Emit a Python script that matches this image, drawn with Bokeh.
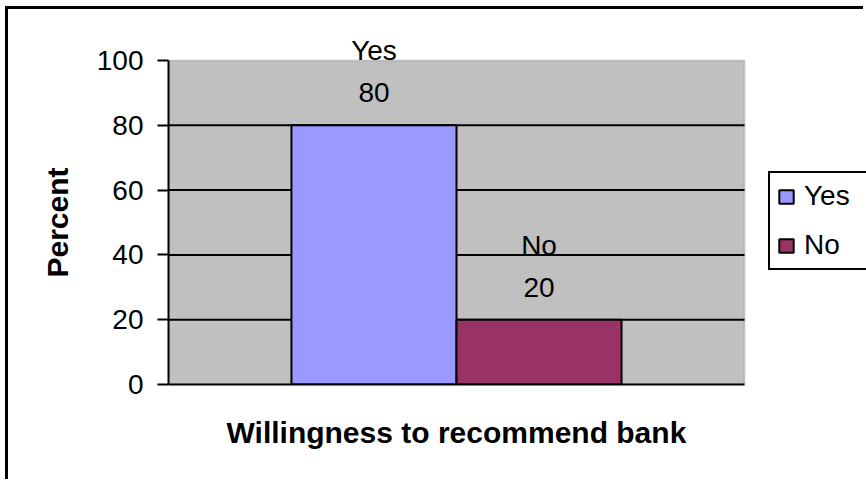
from bokeh.plotting import figure
from bokeh.models import (ColumnDataSource, Range1d, FixedTicker, LabelSet,
                          BoxAnnotation, Title)
from bokeh.core.properties import value
from bokeh.embed import file_html
from bokeh.resources import INLINE

# ---- data ----
categories = ["Yes", "No"]
percents = [80, 20]
colors = ["#9999FF", "#993366"]
y_ticks = [0, 20, 40, 60, 80, 100]
x_title = "Willingness to recommend bank"
y_title = "Percent"

FONT = "Liberation Sans"

# ---- layout constants (window pixels) ----
W, H = 866, 482
OX, OY = 8, 9                 # outer chart border offset
PL, PR, PT, PB = 168, 744, 60, 384   # grey plot area
PAD = 0.745                   # category padding on each side (category widths)
X0, X1 = -PAD, len(categories) + PAD
XPX = (PR - PL) / (X1 - X0)
X_END = X1 + (W - PR) / XPX
Y_END = 100 * (PB - OY) / (PB - PT)

x_pos = [i + 0.5 for i in range(len(categories))]

src = ColumnDataSource(dict(
    x=x_pos,
    cat=categories,
    val=percents,
    color=colors,
    val_txt=[str(v) for v in percents],
))

p = figure(width=W - OX, height=H - OY, output_backend="svg", toolbar_location=None,
           x_range=Range1d(X0, X_END), y_range=Range1d(0, Y_END),
           min_border_left=PL - OX, min_border_right=0,
           min_border_top=0, min_border_bottom=H - PB)
p.styles = {"border-left": "3px solid black", "border-top": "3px solid black",
            "margin-left": f"{OX - 3}px", "margin-top": f"{OY - 3}px"}

p.background_fill_color = "white"
p.border_fill_color = "white"
p.outline_line_color = None

# grey plot area
p.add_layout(BoxAnnotation(left=X0, right=X1, bottom=0, top=100,
                           fill_color="#C0C0C0", fill_alpha=1,
                           line_color="#808080", line_width=2, level="image"))

# grid lines (within plot area only)
grid_y = [t for t in y_ticks if 0 < t < 100]
p.segment(x0=[X0] * len(grid_y), x1=[X1] * len(grid_y), y0=grid_y, y1=grid_y,
          line_color="black", line_width=2)

# bars
p.vbar(x="x", top="val", width=1.0, source=src, fill_color="color",
       line_color="black", line_width=2, legend_field="cat")

# data labels
p.add_layout(LabelSet(x="x", y="val", text="val_txt", source=src, y_offset=23,
                      text_align="center", text_baseline="alphabetic",
                      text_font=value(FONT), text_font_size=value("28px"),
                      text_color="black"))
p.add_layout(LabelSet(x="x", y="val", text="cat", source=src, y_offset=65,
                      text_align="center", text_baseline="alphabetic",
                      text_font=value(FONT), text_font_size=value("28px"),
                      text_color="black"))

p.xgrid.grid_line_color = None
p.ygrid.grid_line_color = None

# y axis
ya = p.yaxis[0]
ya.ticker = FixedTicker(ticks=y_ticks)
ya.bounds = (0, 100)
ya.axis_line_color = "black"
ya.axis_line_width = 2
ya.major_tick_line_color = "black"
ya.major_tick_line_width = 2
ya.major_tick_out = 11
ya.major_tick_in = 0
ya.minor_tick_line_color = None
ya.major_label_text_font = FONT
ya.major_label_text_font_size = "28px"
ya.major_label_text_color = "black"
ya.major_label_standoff = 14

# x axis
xa = p.xaxis[0]
xa.ticker = FixedTicker(ticks=[])
xa.bounds = (X0, X1)
xa.axis_line_color = "black"
xa.axis_line_width = 2
xa.major_tick_line_color = None
xa.minor_tick_line_color = None
xa.major_tick_out = 0
xa.major_label_text_font_size = "0px"
xa.major_label_standoff = 0

# axis titles, centred on the grey plot area (offsets from frame edge)
X_TITLE_W = 460   # approx. rendered width of the x title
Y_TITLE_W = 110   # approx. rendered length of the y title
p.add_layout(Title(text=x_title, align="left",
                   offset=(PL + PR) / 2 - X_TITLE_W / 2 - PL,
                   text_font=FONT, text_font_size="30px", text_font_style="bold",
                   text_color="black", standoff=58), "below")
p.add_layout(Title(text=y_title, align="left",
                   offset=PB - ((PT + PB) / 2 + Y_TITLE_W / 2),
                   text_font=FONT, text_font_size="30px", text_font_style="bold",
                   text_color="black", standoff=40), "left")

# legend
lg = p.legend[0]
lg.location = (768 - PL, PB - 270)
lg.border_line_color = "black"
lg.border_line_alpha = 1
lg.border_line_width = 2
lg.background_fill_color = "white"
lg.background_fill_alpha = 1
lg.label_text_font = FONT
lg.label_text_font_size = "28px"
lg.label_text_color = "black"
lg.glyph_width = 18
lg.glyph_height = 17
lg.label_standoff = 9
lg.label_height = 30
lg.label_width = 100
lg.spacing = 17
lg.padding = 7
lg.margin = 0

open("out.html", "w").write(file_html(p, INLINE))
